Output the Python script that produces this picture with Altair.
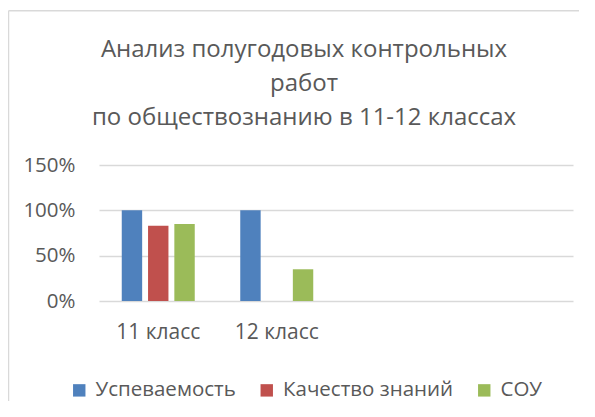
import altair as alt
import pandas as pd

classes = ["11 класс", "12 класс"]
empty_slots = [" ", "  "]
series = ["Успеваемость", "Качество знаний", "СОУ"]
uspevaemost = [1.00, 1.00]
kachestvo = [0.83, 0.00]
sou = [0.85, 0.35]
colors = ["#4F81BD", "#C0504D", "#9BBB59"]
title_lines = ["Анализ полугодовых контрольных", "работ", "по обществознанию в 11-12 классах"]
y_ticks = [0, 0.5, 1.0, 1.5]

rows = []
for name, vals in zip(series, [uspevaemost, kachestvo, sou]):
    for c, v in zip(classes, vals):
        rows.append({"Класс": c, "Показатель": name, "Значение": v})
df = pd.DataFrame(rows)

FONT = "Open Sans"
TEXT = "#595959"
BORDER = "#D9D9D9"

bars = alt.Chart(df).mark_bar().encode(
    x=alt.X(
        "Класс:N",
        sort=classes + empty_slots,
        scale=alt.Scale(domain=classes + empty_slots, paddingInner=0.384, paddingOuter=0.192),
        axis=alt.Axis(title=None, labelAngle=0, ticks=False, domain=False, grid=False,
                      labelPadding=20, labelFontSize=21, labelColor=TEXT, labelFont=FONT),
    ),
    xOffset=alt.XOffset("Показатель:N", sort=series,
                        scale=alt.Scale(domain=series, paddingInner=0.224, paddingOuter=0)),
    y=alt.Y(
        "Значение:Q",
        scale=alt.Scale(domain=[0, 1.5], nice=False),
        axis=alt.Axis(title=None, values=y_ticks, format=".0%", ticks=False, domain=False,
                      labelPadding=24, labelFontSize=20.5, labelColor=TEXT, labelFont=FONT,
                      gridColor=BORDER, gridWidth=1.5),
    ),
    color=alt.Color(
        "Показатель:N",
        sort=series,
        scale=alt.Scale(domain=series, range=colors),
        legend=alt.Legend(title=None, orient="none", legendX=-30, legendY=215,
                          direction="horizontal", symbolType="square", symbolSize=154,
                          symbolStrokeWidth=0, labelFontSize=20.5, labelColor=TEXT,
                          labelFont=FONT, columnPadding=20.5, labelOffset=6, labelLimit=400),
    ),
)

frame_src = pd.DataFrame({"k": [0]})
top_border = alt.Chart(frame_src).mark_rule(color=BORDER, strokeWidth=1.5).encode(
    x=alt.value(-90.5), x2=alt.value(480), y=alt.value(-154.3)
)
left_border = alt.Chart(frame_src).mark_rule(color=BORDER, strokeWidth=1.5).encode(
    x=alt.value(-90.5), y=alt.value(-154.3), y2=alt.value(236)
)
title = alt.Chart(frame_src).mark_text(
    text=title_lines, font=FONT, fontSize=24, color=TEXT, align="center",
    baseline="alphabetic", lineHeight=34,
).encode(x=alt.value(205), y=alt.value(-108.3))

chart = alt.layer(bars, top_border, left_border, title).properties(
    width=474,
    height=136,
    autosize=alt.AutoSizeParams(type="none"),
    padding={"left": 91, "top": 157, "right": 9, "bottom": 100},
).configure_view(stroke=None)

chart.save("out.html", embed_options={"renderer": "svg", "actions": False})
